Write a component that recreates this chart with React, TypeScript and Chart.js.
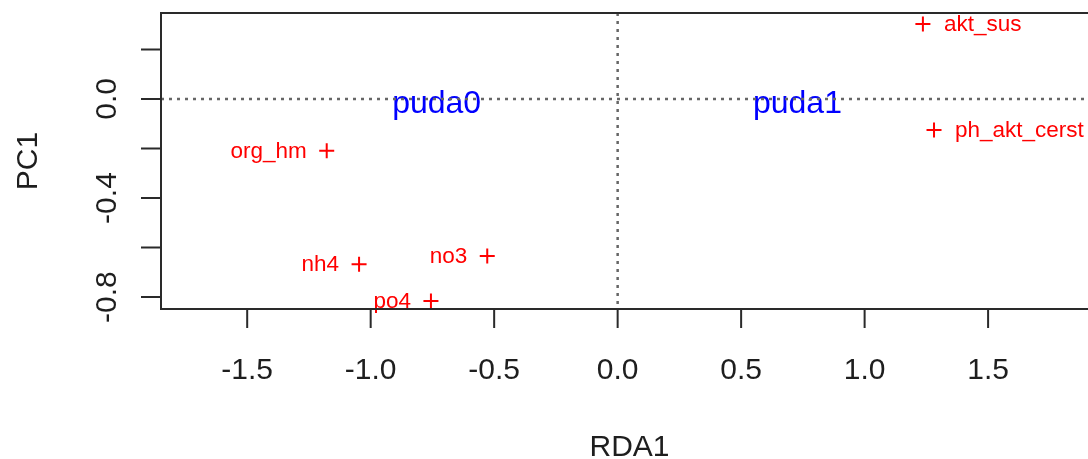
import { useEffect, useRef } from "react";
import { Chart, registerables } from "chart.js";

Chart.register(...registerables);

const speciesNames = ["akt_sus", "ph_akt_cerst", "org_hm", "nh4", "no3", "po4"];
const speciesX = [1.236, 1.281, -1.178, -1.047, -0.528, -0.756];
const speciesY = [0.303, -0.125, -0.209, -0.667, -0.634, -0.816];
const speciesSide = ["right", "right", "left", "left", "left", "left"];

const siteNames = ["puda0", "puda1"];
const siteX = [-0.733, 0.728];
const siteY = [0, 0];

const xTicks = [-1.5, -1.0, -0.5, 0, 0.5, 1.0, 1.5];
const xTickLabels = ["-1.5", "-1.0", "-0.5", "0.0", "0.5", "1.0", "1.5"];
const yTicks = [0.2, 0, -0.2, -0.4, -0.6, -0.8];
const yTickLabels = ["", "0.0", "", "-0.4", "", "-0.8"];

const xRange = [-1.849, 1.945];
const yRange = [-0.848, 0.347];
const xTitle = "RDA1";
const yTitle = "PC1";

const FONT = "'Liberation Sans', Arial, Helvetica, sans-serif";

const rPlot = {
  id: "rPlot",
  afterDatasetsDraw(chart: any) {
    const { ctx, chartArea: a, scales } = chart;
    const xs = scales.x;
    const ys = scales.y;
    ctx.save();
    ctx.textBaseline = "alphabetic";
    // site labels
    ctx.fillStyle = "#0000FF";
    ctx.font = `32px ${FONT}`;
    ctx.textAlign = "center";
    siteNames.forEach((n, i) => {
      ctx.fillText(n, xs.getPixelForValue(siteX[i]), ys.getPixelForValue(siteY[i]) + 14);
    });
    // species labels
    ctx.fillStyle = "#FF0000";
    ctx.font = `22.5px ${FONT}`;
    speciesNames.forEach((n, i) => {
      const px = xs.getPixelForValue(speciesX[i]);
      const py = ys.getPixelForValue(speciesY[i]);
      if (speciesSide[i] === "right") {
        ctx.textAlign = "left";
        ctx.fillText(n, px + 21, py + 7);
      } else {
        ctx.textAlign = "right";
        ctx.fillText(n, px - 20, py + 7);
      }
    });
    // dotted reference lines (drawn over labels, like abline)
    ctx.save();
    ctx.strokeStyle = "#666";
    ctx.lineWidth = 2.5;
    ctx.setLineDash([3, 5]);
    const x0 = xs.getPixelForValue(0);
    const y0 = ys.getPixelForValue(0);
    ctx.beginPath();
    ctx.moveTo(a.left, y0);
    ctx.lineTo(a.right, y0);
    ctx.moveTo(x0, a.top);
    ctx.lineTo(x0, a.bottom);
    ctx.stroke();
    ctx.restore();
    // box
    ctx.strokeStyle = "#2a2a2a";
    ctx.lineWidth = 2;
    ctx.setLineDash([]);
    ctx.strokeRect(a.left, a.top, a.right - a.left, a.bottom - a.top);
    // ticks
    ctx.beginPath();
    xTicks.forEach((v) => {
      const px = xs.getPixelForValue(v);
      ctx.moveTo(px, a.bottom);
      ctx.lineTo(px, a.bottom + 19);
    });
    yTicks.forEach((v) => {
      const py = ys.getPixelForValue(v);
      ctx.moveTo(a.left, py);
      ctx.lineTo(a.left - 20, py);
    });
    ctx.stroke();
    // tick labels
    ctx.fillStyle = "#1e1e1e";
    ctx.font = `30px ${FONT}`;
    ctx.textAlign = "center";
    xTicks.forEach((v, i) => {
      ctx.fillText(xTickLabels[i], xs.getPixelForValue(v), a.bottom + 70);
    });
    yTicks.forEach((v, i) => {
      if (!yTickLabels[i]) return;
      ctx.save();
      ctx.translate(a.left - 45, ys.getPixelForValue(v));
      ctx.rotate(-Math.PI / 2);
      ctx.fillText(yTickLabels[i], 0, 0);
      ctx.restore();
    });
    // axis titles
    ctx.fillText(xTitle, (a.left + a.right) / 2, 456);
    ctx.save();
    ctx.translate(37, (a.top + a.bottom) / 2);
    ctx.rotate(-Math.PI / 2);
    ctx.fillText(yTitle, 0, 0);
    ctx.restore();
    ctx.restore();
  },
};

export default function App() {
  const ref = useRef<HTMLCanvasElement | null>(null);
  useEffect(() => {
    if (!ref.current) return;
    const chart = new Chart(ref.current, {
      type: "scatter",
      data: {
        datasets: [
          {
            data: speciesX.map((x, i) => ({ x, y: speciesY[i] })),
            pointStyle: "cross",
            pointRadius: 7.5,
            pointHoverRadius: 7.5,
            borderColor: "#FF0000",
            backgroundColor: "#FF0000",
            borderWidth: 2,
            clip: false as any,
          },
        ],
      },
      options: {
        animation: false,
        responsive: false,
        devicePixelRatio: 1,
        layout: { padding: { left: 161, top: 13, right: 22, bottom: 150 } },
        plugins: { legend: { display: false }, tooltip: { enabled: false } },
        scales: {
          x: { type: "linear", min: xRange[0], max: xRange[1], display: false },
          y: { type: "linear", min: yRange[0], max: yRange[1], display: false },
        },
      },
      plugins: [rPlot],
    });
    return () => chart.destroy();
  }, []);
  return (
    <div
      style={{
        position: "fixed",
        left: 0,
        top: 0,
        width: 1088,
        height: 459,
        overflow: "hidden",
        background: "#fff",
      }}
    >
      <canvas ref={ref} width={1120} height={459} style={{ display: "block" }} />
    </div>
  );
}
